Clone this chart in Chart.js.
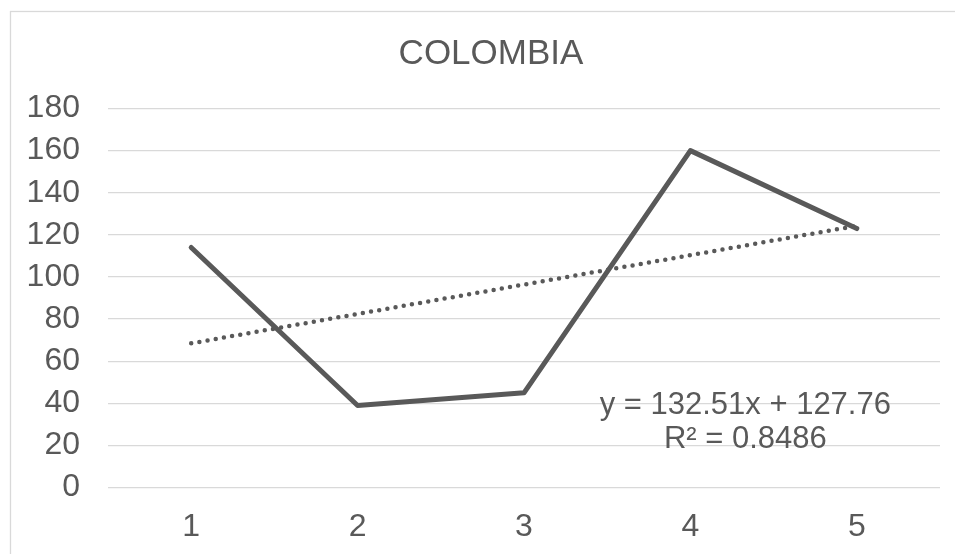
<!DOCTYPE html>
<html>
<head>
<meta charset="utf-8">
<title>COLOMBIA</title>
<script src="https://cdn.jsdelivr.net/npm/chart.js@4/dist/chart.umd.min.js"></script>
<style>
  html, body { margin: 0; padding: 0; background: #fff; overflow: hidden; }
  #wrap { width: 955px; height: 554px; overflow: hidden; }
</style>
</head>
<body>
<div id="wrap">
  <canvas id="chartColombia" width="982" height="568"></canvas>
</div>
<script>
// datos de la serie
const categorias = ['1', '2', '3', '4', '5'];
const valores = [114, 39, 45, 160, 123];
// línea de tendencia (extremos, se unen con spanGaps)
const tendencia = [68.5, null, null, null, 124.3];
const ecuacion = ['y = 132.51x + 127.76', 'R² = 0.8486'];
const ejeYMax = 180;
const ejeYPaso = 20;

const gris = '#595959';
const grisClaro = '#d9d9d9';
const fuente = '"Liberation Sans", Arial, sans-serif';

// marco del gráfico
const marcoPlugin = {
    id: 'marco',
    beforeDraw(chart) {
        const ctx = chart.ctx;
        ctx.save();
        ctx.strokeStyle = grisClaro;
        ctx.lineWidth = 1.3;
        ctx.strokeRect(10.5, 11.5, chart.width - 21, chart.height + 20);
        ctx.restore();
    }
};

// texto de la ecuación de la tendencia
const ecuacionPlugin = {
    id: 'ecuacion',
    afterDatasetsDraw(chart) {
        const ctx = chart.ctx;
        const x = chart.scales.x.getPixelForValue(3.33);
        const y = chart.scales.y.getPixelForValue(39);
        ctx.save();
        ctx.font = '31px ' + fuente;
        ctx.fillStyle = gris;
        ctx.textAlign = 'center';
        ctx.textBaseline = 'middle';
        ecuacion.forEach((linea, i) => ctx.fillText(linea, x, y + i * 34));
        ctx.restore();
    }
};

const ctxColombia = document.getElementById('chartColombia').getContext('2d');

new Chart(ctxColombia, {
    type: 'line',
    data: {
        labels: categorias,
        datasets: [{
            label: 'COLOMBIA',
            data: valores,
            borderColor: gris,
            borderWidth: 5,
            borderCapStyle: 'round',
            borderJoinStyle: 'round',
            pointRadius: 0,
            tension: 0,
            fill: false
        }, {
            label: 'Tendencia',
            data: tendencia,
            spanGaps: true,
            borderColor: gris,
            borderWidth: 4.5,
            borderDash: [0, 8.3],
            borderCapStyle: 'round',
            pointRadius: 0,
            tension: 0,
            fill: false
        }]
    },
    options: {
        responsive: false,
        animation: false,
        layout: { padding: { left: 10, right: 10, top: 11, bottom: 10 } },
        plugins: {
            legend: { display: false },
            tooltip: { enabled: false },
            title: {
                display: true,
                text: 'COLOMBIA',
                color: gris,
                font: { family: fuente, size: 35, weight: 'normal', lineHeight: 1.2 },
                padding: { top: 22, bottom: 33.5 }
            }
        },
        scales: {
            x: {
                offset: true,
                grid: { display: false },
                border: { display: false },
                ticks: {
                    color: gris,
                    font: { family: fuente, size: 32, lineHeight: 1.2 },
                    padding: 12,
                    maxRotation: 0
                }
            },
            y: {
                min: 0,
                max: ejeYMax,
                border: { display: false },
                grid: { color: grisClaro, lineWidth: 1.3, drawTicks: false },
                ticks: {
                    stepSize: ejeYPaso,
                    autoSkip: false,
                    color: gris,
                    font: { family: fuente, size: 32, lineHeight: 1.2 },
                    padding: 28
                },
                afterFit(scale) { scale.width = 98; }
            },
            margen: {
                type: 'linear',
                position: 'right',
                grid: { display: false },
                border: { display: false },
                ticks: { display: false },
                afterFit(scale) { scale.width = 32; }
            }
        }
    },
    plugins: [marcoPlugin, ecuacionPlugin]
});
</script>
</body>
</html>
